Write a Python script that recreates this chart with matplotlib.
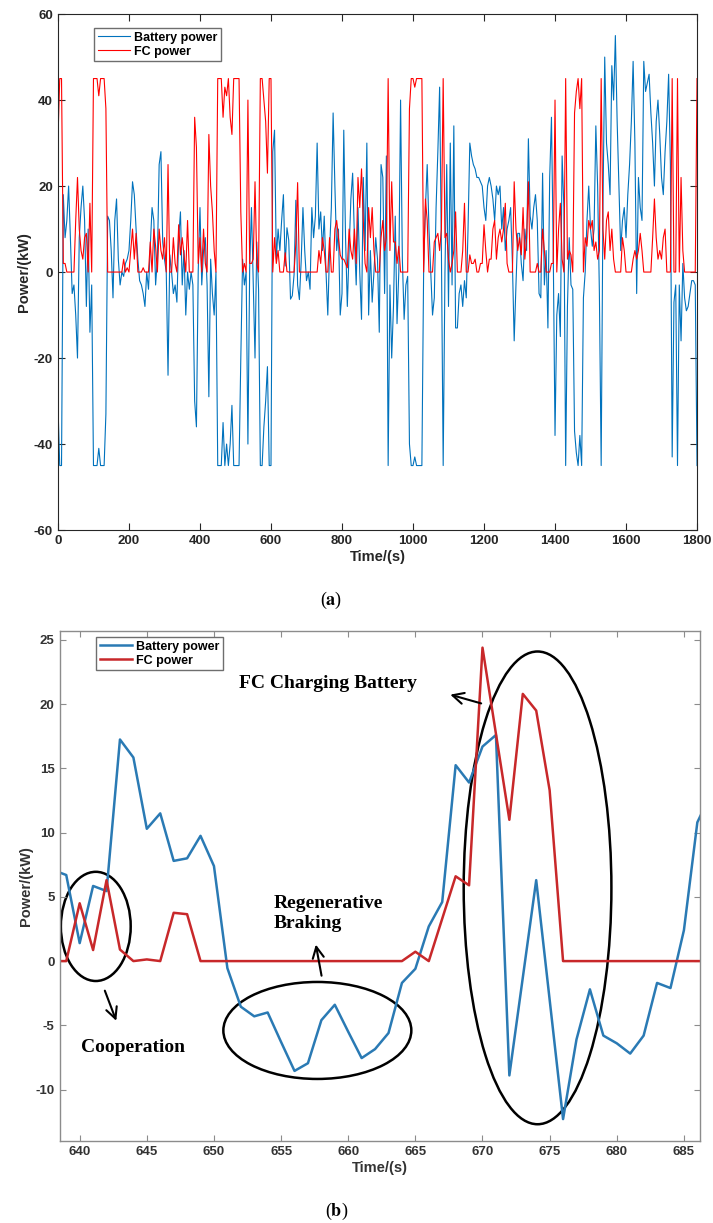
import numpy as np
import matplotlib
matplotlib.use("Agg")
import matplotlib.pyplot as plt
from matplotlib.patches import Ellipse

plt.rcParams["font.family"] = ["Liberation Sans", "DejaVu Sans"]
plt.rcParams["font.weight"] = "bold"
plt.rcParams["axes.labelweight"] = "bold"
plt.rcParams["axes.unicode_minus"] = False
plt.rcParams["mathtext.fontset"] = "stix"

# whole drive cycle, one sample every 5 s
cycle_time = np.arange(0, 1801, 5)
battery_cycle = [
    -31, -45, -45, 18, 8, 12, 20, 8, -5, -3,
    -10, -20, 8, 15, 20, 12, -8, 10, -14, -3,
    -45, -45, -45, -41, -45, -45, -45, -33, 13, 12,
    5, -6, 12, 17, 3, -3, 0, -1, 2, 3,
    5, 12, 21, 18, 10, 3, -2, -3, -5, -8,
    0, -4, 6, 15, 12, -3, 3, 25, 28, 7,
    3, 0, -24, 4, 0, -5, -3, -7, 8, 14,
    -3, 5, -10, 0, -4, 0, -3, -30, -36, 0,
    15, -3, 5, 8, -3, -29, 3, -5, -10, 0,
    -45, -45, -45, -35, -45, -40, -45, -40, -31, -45,
    -45, -45, -45, -20, 3, -3, 0, -40, 1, 15,
    -3, -20, 7, -4, -45, -45, -36, -30, -22, -45,
    -45, 28, 33, 3, 10, 5, 12, 18, 1.4, 10.3,
    7.4, -6.3, -5.5, -0.6, 16.7, -3.0, -6.4, 2.4, 15, 5,
    -2, 0, -4, 15, 8, 13, 30, 10, 14, 5,
    13, 0, -10, 5, 15, 37, 20, 5, 10, -10,
    -5, 33, 8, -8, 5, 17, 23, 8, -3, 15,
    0, -11, 22, 5, 30, -10, 5, -7, 0, 8,
    3, -14, 25, 22, -5, 27, -45, -3, -20, -8,
    13, -12, 0, 40, 3, -11, -3, -1, -40, -45,
    -45, -43, -45, -45, -45, -45, 1, 15, 25, 10,
    0, -10, -6, 15, 28, 43, 5, -45, 0, 25,
    -8, 30, -3, 34, -13, -13, -5, -3, -8, -2,
    -6, 10, 30, 27, 25, 24, 22, 22, 21, 20,
    15, 12, 20, 22, 20, 17, 12, 20, 18, 20,
    10, 15, 5, 10, 12, 15, 2, -16, -3, 9,
    9, 2, -2, 10, 5, 31, 13, 10, 15, 18,
    12, -5, -6, 23, -3, 5, -13, 22, 36, 5,
    -38, -10, -5, -15, 27, 15, -45, -8, 8, -3,
    -4, -37, -42, -45, -38, -45, -6, 0, 12, 20,
    10, 6, 10, 34, 20, -5, -45, 15, 50, 30,
    25, 18, 48, 40, 55, 35, 20, 5, 12, 15,
    8, 18, 25, 35, 49, 30, -5, 22, 15, 12,
    49, 42, 44, 46, 37, 30, 20, 35, 40, 32,
    22, 18, 28, 35, 46, 25, -43, -7, -3, -45,
    -3, -16, 2, -6, -9, -8, -5, -2, -2, -3,
    -45,
]
fc_cycle = [
    31, 45, 45, 2, 2, 0, 0, 0, 0, 0,
    12, 22, 10, 5, 3, 8, 9, 0, 16, 0,
    45, 45, 45, 41, 45, 45, 45, 38, 0, 0,
    0, 0, 0, 0, 0, 0, 0, 3, 0, 1,
    0, 5, 10, 3, 9, 0, 0, 0, 1, 0,
    0, 0, 7, 0, 10, 6, 0, 10, 5, 3,
    8, 0, 25, 0, 0, 8, 2, 0, 11, 4,
    8, 4, 0, 12, 0, 0, 0, 36, 29, 2,
    8, 0, 10, 2, 0, 32, 20, 14, 5, 0,
    45, 45, 45, 36, 43, 41, 45, 36, 32, 45,
    45, 45, 45, 14, 0, 2, 0, 40, 2, 2,
    3, 21, 2, 0, 45, 45, 40, 35, 23, 45,
    45, 0, 8, 2, 5, 0, 0, 0, 4.5, 0.1,
    0, 0, 0, 0, 6.6, 20.8, 0, 0, 0, 0,
    0, 0, 0, 0, 0, 0, 0, 5, 2, 8,
    5, 0, 0, 8, 0, 0, 10, 12, 8, 4,
    3, 3, 2, 1, 10, 5, 3, 10, 2, 22,
    15, 24, 12, 2, 0, 15, 8, 15, 5, 0,
    0, 0, 8, 12, 5, 8, 45, 5, 21, 7,
    7, 2, 6, 0, 0, 0, 0, 0, 38, 45,
    45, 43, 45, 45, 45, 45, 0, 17, 12, 0,
    0, 0, 7, 8, 9, 5, 10, 45, 8, 9,
    3, 0, 2, 5, 14, 0, 0, 0, 5, 16,
    0, 0, 4, 2, 2, 3, 0, 0, 2, 2,
    11, 5, 0, 3, 3, 10, 12, 3, 8, 10,
    7, 10, 16, 2, 0, 0, 0, 21, 10, 5,
    8, 4, 15, 3, 8, 21, 0, 0, 0, 0,
    2, 0, 0, 10, 5, 0, 0, 0, 2, 2,
    40, 0, 10, 16, 3, 0, 45, 3, 5, 4,
    0, 37, 42, 45, 38, 45, 0, 8, 6, 12,
    10, 12, 5, 7, 3, 5, 45, 10, 3, 12,
    14, 5, 10, 3, 0, 0, 0, 0, 8, 5,
    0, 0, 0, 0, 3, 5, 3, 5, 9, 5,
    0, 0, 0, 0, 0, 8, 17, 8, 3, 5,
    3, 8, 10, 0, 0, 0, 45, 0, 0, 45,
    0, 22, 5, 0, 0, 0, 0, 0, 0, 0,
    45,
]

# close-up of 638-687 s, one sample per second
detail_time = np.arange(638, 688)
battery_detail = [
    7.1, 6.7, 1.4, 5.85, 5.45, 17.25, 15.85, 10.3, 11.5, 7.8,
    8.0, 9.75, 7.4, -0.55, -3.55, -4.3, -4.0, -6.3, -8.55, -7.95,
    -4.6, -3.4, -5.5, -7.55, -6.85, -5.6, -1.7, -0.6, 2.7, 4.6,
    15.25, 13.9, 16.7, 17.6, -8.9, -1.3, 6.3, -3.0, -12.3, -6.1,
    -2.2, -5.8, -6.4, -7.2, -5.8, -1.7, -2.1, 2.4, 10.8, 13.0,
]
fc_detail = [
    0, 0, 4.5, 0.86, 6.3, 0.9, 0, 0.13, 0, 3.76,
    3.65, 0, 0, 0, 0, 0, 0, 0, 0, 0,
    0, 0, 0, 0, 0, 0, 0, 0.73, 0, 3.3,
    6.6, 5.9, 24.4, 17.7, 11.0, 20.8, 19.5, 13.3, 0, 0,
    0, 0, 0, 0, 0, 0, 0, 0, 0, 0,
]

fig = plt.figure(figsize=(7.13, 12.23), dpi=100)

# ---- (a) full cycle ----
ax1 = fig.add_axes([0.0813, 0.5666, 0.8963, 0.4219])
ax1.plot(cycle_time, battery_cycle, color="#0072BD", lw=0.8, label="Battery power")
ax1.plot(cycle_time, fc_cycle, color="#FF0000", lw=0.8, label="FC power")
ax1.set_xlim(0, 1800)
ax1.set_ylim(-60, 60)
ax1.set_xticks(np.arange(0, 1801, 200))
ax1.set_yticks(np.arange(-60, 61, 20))
ax1.tick_params(direction="in", top=True, right=True, length=5, width=0.8,
                labelsize=9.5, colors="#262626")
for sp in ax1.spines.values():
    sp.set_color("#262626")
    sp.set_linewidth(0.8)
ax1.set_xlabel("Time/(s)", fontsize=10.5, color="#262626", labelpad=2)
ax1.set_ylabel("Power/(kW)", fontsize=10.5, color="#262626", labelpad=2)
leg1 = ax1.legend(loc="upper left", bbox_to_anchor=(0.056, 0.973), borderaxespad=0,
                  fancybox=False, edgecolor="#6e6e6e", framealpha=1, fontsize=9,
                  handlelength=2.6, handletextpad=0.3, borderpad=0.3, labelspacing=0.15)
leg1.get_frame().set_linewidth(1.0)

# ---- (b) close-up ----
ax2 = fig.add_axes([0.0835, 0.0671, 0.8983, 0.4170])
ax2.plot(detail_time, battery_detail, color="#2a7ab4", lw=1.8, label="Battery power")
ax2.plot(detail_time, fc_detail, color="#c8282a", lw=1.8, label="FC power")
ax2.set_xlim(638.5, 686.2)
ax2.set_ylim(-14, 25.7)
ax2.set_xticks(np.arange(640, 686, 5))
ax2.set_yticks(np.arange(-10, 26, 5))
ax2.tick_params(direction="in", top=True, right=True, length=4, width=0.8,
                labelsize=9.5, colors="#333333")
ax2.tick_params(axis="both", color="#8c8c8c")
for sp in ax2.spines.values():
    sp.set_color("#8c8c8c")
    sp.set_linewidth(1.0)
ax2.set_xlabel("Time/(s)", fontsize=10.5, color="#333333", labelpad=2)
ax2.set_ylabel("Power/(kW)", fontsize=10.5, color="#333333", labelpad=2)
leg2 = ax2.legend(loc="upper left", bbox_to_anchor=(0.057, 0.988), borderaxespad=0,
                  fancybox=False, edgecolor="#6e6e6e", framealpha=1, fontsize=9,
                  handlelength=2.6, handletextpad=0.3, borderpad=0.3, labelspacing=0.15)
leg2.get_frame().set_linewidth(1.0)

# operating-mode callouts
for cx, cy, w, h in [(641.2, 2.7, 5.2, 8.5), (657.7, -5.4, 14.0, 7.55), (674.1, 5.7, 11.0, 36.8)]:
    ax2.add_patch(Ellipse((cx, cy), w, h, fill=False, edgecolor="black", lw=1.8))

serif = dict(family=["Liberation Serif", "DejaVu Serif"], fontweight="bold", fontsize=14)
ax2.text(651.9, 21.6, "FC Charging Battery", ha="left", va="center", **serif)
ax2.text(640.1, -6.7, "Cooperation", ha="left", va="center", **serif)
ax2.text(654.45, 3.7, "Regenerative\nBraking", ha="left", va="center", linespacing=1.25, **serif)

arrow = dict(arrowstyle="->", color="black", lw=1.5, mutation_scale=20)
ax2.annotate("", xy=(667.4, 20.8), xytext=(670.1, 20.0), arrowprops=arrow)
ax2.annotate("", xy=(657.55, 1.5), xytext=(658.05, -1.35), arrowprops=arrow)
ax2.annotate("", xy=(642.8, -4.85), xytext=(641.8, -2.1), arrowprops=arrow)

# panel captions
cap = dict(family=["Liberation Serif", "DejaVu Serif"], fontweight="normal", fontsize=13,
           ha="center", va="center")
fig.text(0.465, 0.509, r"($\mathbf{a}$)", **cap)
fig.text(0.472, 0.0095, r"($\mathbf{b}$)", **cap)

fig.savefig("out.png", dpi=100, facecolor="white")
